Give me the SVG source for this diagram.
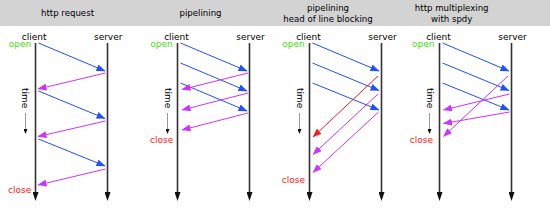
<svg xmlns="http://www.w3.org/2000/svg" width="550" height="209" viewBox="0 0 550 209">
<style>
.title{font-family:"DejaVu Sans",Verdana,sans-serif;font-size:8.6px;fill:#000;text-anchor:middle}
.lbl{font-family:"DejaVu Sans",Verdana,sans-serif;font-size:9px;fill:#000;text-anchor:middle}
.open{font-family:"DejaVu Sans",Verdana,sans-serif;font-size:9px;fill:#44e011;text-anchor:end}
.close{font-family:"DejaVu Sans",Verdana,sans-serif;font-size:9px;fill:#ff2020;text-anchor:end}
.time{font-family:"DejaVu Sans",Verdana,sans-serif;font-size:9px;fill:#000}
.life{stroke:#333;stroke-width:1.6;fill:none;marker-end:url(#ah)}
.tarr{stroke:#999;stroke-width:1;marker-end:url(#th)}
.b{stroke:#2050ff;stroke-width:1;fill:none;marker-end:url(#mb)}
.m{stroke:#cc33ff;stroke-width:1;fill:none;marker-end:url(#mm)}
.r{stroke:#ff1a1a;stroke-width:1;fill:none;marker-end:url(#mr)}
</style>
<defs>
<marker id="ah" markerUnits="userSpaceOnUse" markerWidth="9" markerHeight="6" refX="2" refY="3" orient="auto"><path d="M0,0 L9,3 L0,6 z" fill="#111"/></marker>
<marker id="th" markerUnits="userSpaceOnUse" markerWidth="5" markerHeight="4" refX="1" refY="2" orient="auto"><path d="M0,0 L5,2 L0,4 z" fill="#111"/></marker>
<marker id="mb" markerUnits="userSpaceOnUse" markerWidth="9" markerHeight="7" refX="8.5" refY="3.5" orient="auto"><path d="M0,0 L9,3.5 L0,7 z" fill="#2050ff"/></marker>
<marker id="mm" markerUnits="userSpaceOnUse" markerWidth="9" markerHeight="7" refX="8.5" refY="3.5" orient="auto"><path d="M0,0 L9,3.5 L0,7 z" fill="#cc33ff"/></marker>
<marker id="mr" markerUnits="userSpaceOnUse" markerWidth="9" markerHeight="7" refX="8.5" refY="3.5" orient="auto"><path d="M0,0 L9,3.5 L0,7 z" fill="#ff1a1a"/></marker>
</defs>
<rect x="0" y="0" width="550" height="209" fill="#fff"/>
<rect x="0" y="0" width="550" height="26" fill="#d3d3d3"/>
<g id="titles">
<text class="title" x="67.5" y="15.5">http request</text>
<text class="title" x="200.5" y="15.5">pipelining</text>
<text class="title" x="328" y="11">pipelining</text>
<text class="title" x="328" y="21.5">head of line blocking</text>
<text class="title" x="451.7" y="11">http multiplexing</text>
<text class="title" x="451.7" y="21.5">with spdy</text>
</g>

<g id="panel1">
<g id="client1"><line class="life" x1="35.5" y1="43" x2="35.5" y2="194"/><text class="lbl" x="34.2" y="40">client</text></g>
<g id="server1"><line class="life" x1="107.5" y1="43" x2="107.5" y2="194"/><text class="lbl" x="108.2" y="40">server</text></g>
<text class="open" x="31.3" y="47.4">open</text>
<text class="close" x="31.3" y="192.5">close</text>
<text class="time" transform="translate(22.3,88) rotate(90)">time</text>
<line class="tarr" x1="25.5" y1="113" x2="25.5" y2="130"/>
</g>

<g id="panel2">
<g id="client2"><line class="life" x1="177.5" y1="43" x2="177.5" y2="194"/><text class="lbl" x="176.5" y="40">client</text></g>
<g id="server2"><line class="life" x1="249.5" y1="43" x2="249.5" y2="194"/><text class="lbl" x="250.5" y="40">server</text></g>
<text class="open" x="172.7" y="47.4">open</text>
<text class="close" x="173.2" y="142.5">close</text>
<text class="time" transform="translate(164.5,88) rotate(90)">time</text>
<line class="tarr" x1="167.5" y1="113" x2="167.5" y2="130"/>
</g>

<g id="panel3">
<g id="client3"><line class="life" x1="309.5" y1="43" x2="309.5" y2="194"/><text class="lbl" x="308.5" y="40">client</text></g>
<g id="server3"><line class="life" x1="381.5" y1="43" x2="381.5" y2="194"/><text class="lbl" x="382.5" y="40">server</text></g>
<text class="open" x="304.7" y="47.4">open</text>
<text class="close" x="305" y="182.5">close</text>
<text class="time" transform="translate(296.5,88) rotate(90)">time</text>
<line class="tarr" x1="299.5" y1="113" x2="299.5" y2="130"/>
</g>

<g id="panel4">
<g id="client4"><line class="life" x1="439.5" y1="43" x2="439.5" y2="194"/><text class="lbl" x="438.5" y="40">client</text></g>
<g id="server4"><line class="life" x1="511.5" y1="43" x2="511.5" y2="194"/><text class="lbl" x="512.5" y="40">server</text></g>
<text class="open" x="434.5" y="47.4">open</text>
<text class="close" x="433" y="142.5">close</text>
<text class="time" transform="translate(426.5,88) rotate(90)">time</text>
<line class="tarr" x1="429.5" y1="113" x2="429.5" y2="130"/>
</g>

<g id="connectors">
<line class="b" x1="38.5" y1="43" x2="105" y2="71"/>
<line class="m" x1="105.5" y1="73" x2="38" y2="89"/>
<line class="b" x1="38.5" y1="91" x2="105" y2="118.5"/>
<line class="m" x1="105.5" y1="121" x2="38" y2="136.5"/>
<line class="b" x1="38.5" y1="139" x2="105" y2="166"/>
<line class="m" x1="105.5" y1="169" x2="38" y2="185"/>

<line class="b" x1="180.5" y1="43" x2="247" y2="71"/>
<line class="b" x1="180.5" y1="63" x2="247" y2="91"/>
<line class="b" x1="180.5" y1="83" x2="247" y2="111"/>
<line class="m" x1="248" y1="73" x2="182" y2="89.5"/>
<line class="m" x1="248" y1="93" x2="182" y2="110"/>
<line class="m" x1="248" y1="113" x2="182" y2="130"/>

<line class="b" x1="312.5" y1="43" x2="379" y2="71"/>
<line class="b" x1="312.5" y1="63" x2="379" y2="90.5"/>
<line class="b" x1="312.5" y1="83" x2="379" y2="110"/>
<line class="r" x1="378" y1="76" x2="313" y2="137"/>
<line class="m" x1="378" y1="94" x2="313" y2="154.5"/>
<line class="m" x1="378.5" y1="112" x2="313" y2="172.5"/>

<line class="b" x1="442.5" y1="43" x2="509" y2="71"/>
<line class="b" x1="442.5" y1="63" x2="509" y2="90.5"/>
<line class="b" x1="442.5" y1="83" x2="509" y2="110"/>
<line class="m" x1="508" y1="76" x2="443.5" y2="136.5"/>
<line class="m" x1="509.5" y1="94" x2="443.5" y2="110"/>
<line class="m" x1="509.5" y1="112" x2="443.5" y2="123.5"/>
</g>
</svg>
